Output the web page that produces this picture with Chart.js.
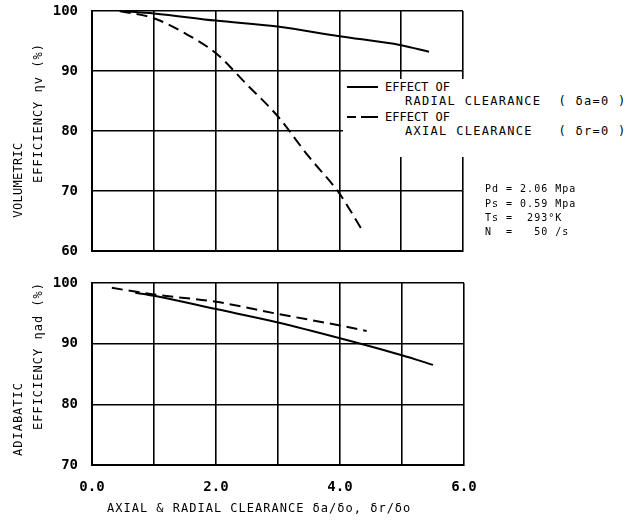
<!DOCTYPE html>
<html>
<head>
<meta charset="utf-8">
<script src="https://cdn.jsdelivr.net/npm/chart.js@4.4.1/dist/chart.umd.min.js"></script>
<style>
  body { margin: 0; background: #fff; }
  #wrap { position: relative; width: 632px; height: 524px; overflow: hidden; background: #fff;
          font-family: 'DejaVu Sans Mono', monospace; color: #000; }
  #wrap canvas { position: absolute; left: 0; }
  .txt { position: absolute; white-space: pre; line-height: 1; }
  .rot { position: absolute; white-space: pre; line-height: 1; transform: translate(-50%, -50%) rotate(-90deg); }
  .bar { position: absolute; background: #000; height: 2px; }
</style>
</head>
<body>
<div id="wrap">
  <canvas id="volChart" width="632" height="262" style="top:0"></canvas>
  <canvas id="adChart" width="632" height="254" style="top:270px"></canvas>

  <!-- axis titles -->
  <div class="rot" style="left:18px; top:180px; font-size:12px; letter-spacing:0.3px">VOLUMETRIC</div>
  <div class="rot" style="left:38px; top:113px; font-size:12px; letter-spacing:1px">EFFICIENCY ηv (%)</div>
  <div class="rot" style="left:18px; top:419px; font-size:12px; letter-spacing:1px">ADIABATIC</div>
  <div class="rot" style="left:38px; top:356px; font-size:12px; letter-spacing:1px">EFFICIENCY ηad (%)</div>
  <div class="txt" style="left:107px; top:502px; font-size:12px; letter-spacing:1px">AXIAL &amp; RADIAL CLEARANCE δa/δo, δr/δo</div>

  <!-- legend -->
  <div style="position:absolute; left:343px; top:79px; width:289px; height:78px; background:#fff"></div>
  <div class="bar" style="left:347px; top:86px; width:31px"></div>
  <div class="txt" style="left:385px; top:81px; font-size:12px">EFFECT OF</div>
  <div class="txt" style="left:405px; top:95px; font-size:12px; letter-spacing:1.3px">RADIAL CLEARANCE  ( δa=0 )</div>
  <div class="bar" style="left:347px; top:116px; width:9px"></div>
  <div class="bar" style="left:361px; top:116px; width:17px"></div>
  <div class="txt" style="left:385px; top:111px; font-size:12px">EFFECT OF</div>
  <div class="txt" style="left:405px; top:125px; font-size:12px; letter-spacing:1.3px">AXIAL CLEARANCE   ( δr=0 )</div>

  <!-- operating conditions -->
  <div class="txt" style="left:485px; top:184px; font-size:10px; letter-spacing:1px">Pd = 2.06 Mpa</div>
  <div class="txt" style="left:485px; top:199px; font-size:10px; letter-spacing:1px">Ps = 0.59 Mpa</div>
  <div class="txt" style="left:485px; top:213px; font-size:10px; letter-spacing:1px">Ts =  293°K</div>
  <div class="txt" style="left:485px; top:227px; font-size:10px; letter-spacing:1px">N  =   50 /s</div>
</div>

<script>
// clearance ratio (x) and efficiencies (%)
const volRadialX = [0.45, 1.0, 2.0, 3.0, 4.0, 5.0, 5.45];
const volRadialY = [100, 99.6, 98.4, 97.4, 95.8, 94.3, 93.2];
const volAxialX = [0.45, 1.0, 1.5, 2.0, 2.5, 3.0, 3.5, 4.0, 4.35];
const volAxialY = [100, 98.8, 96.3, 93.0, 87.8, 82.5, 75.8, 69.6, 63.8];

const adRadialX = [0.7, 1.0, 2.0, 3.0, 4.0, 5.0, 5.5];
const adRadialY = [98.4, 97.9, 95.7, 93.5, 90.9, 88.1, 86.5];
const adAxialX = [0.32, 1.0, 2.0, 3.0, 4.0, 4.43];
const adAxialY = [99.2, 98.1, 96.9, 94.9, 93.0, 92.1];

const xTickValues = [0, 1, 2, 3, 4, 5, 6];
const xTickLabels = ['0.0', '', '2.0', '', '4.0', '', '6.0'];
const volTicks = [60, 70, 80, 90, 100];
const adTicks = [70, 80, 90, 100];

const pts = (xs, ys) => xs.map((x, i) => ({ x: x, y: ys[i] }));

function curve(data, dashed) {
    return {
        data: data,
        showLine: true,
        borderColor: '#000',
        borderWidth: 2,
        borderDash: dashed ? [11, 6] : [],
        pointRadius: 0,
        cubicInterpolationMode: 'monotone',
        fill: false
    };
}

const tickFont = { family: 'DejaVu Sans Mono', size: 14, weight: 'bold' };
const gridOpts = { color: '#000', lineWidth: 1.6, drawTicks: false };
const borderOpts = { color: '#000', width: 2 };

function makeChart(id, datasets, yTicks, showX, xHeight, pad) {
    const ctx = document.getElementById(id).getContext('2d');
    return new Chart(ctx, {
        type: 'scatter',
        data: { datasets: datasets },
        options: {
            responsive: false,
            animation: false,
            devicePixelRatio: 1,
            events: [],
            layout: { padding: pad },
            plugins: { legend: { display: false }, tooltip: { enabled: false } },
            scales: {
                x: {
                    type: 'linear',
                    min: 0, max: 6,
                    grid: gridOpts,
                    border: borderOpts,
                    afterBuildTicks: s => { s.ticks = xTickValues.map(v => ({ value: v })); },
                    afterFit: s => { s.height = xHeight; s.paddingLeft = 0; s.paddingRight = 0; },
                    ticks: {
                        display: showX,
                        color: '#000',
                        font: tickFont,
                        padding: 14,
                        maxRotation: 0,
                        autoSkip: false,
                        callback: v => xTickLabels[xTickValues.indexOf(v)]
                    }
                },
                y: {
                    min: yTicks[0], max: yTicks[yTicks.length - 1],
                    grid: gridOpts,
                    border: borderOpts,
                    afterBuildTicks: s => { s.ticks = yTicks.map(v => ({ value: v })); },
                    afterFit: s => { s.width = 92; s.paddingTop = 0; s.paddingBottom = 0; },
                    ticks: { color: '#000', font: tickFont, padding: 14 }
                }
            }
        }
    });
}

makeChart('volChart',
    [curve(pts(volRadialX, volRadialY), false), curve(pts(volAxialX, volAxialY), true)],
    volTicks, false, 11, { left: 0, right: 169, top: 11, bottom: 0 });

makeChart('adChart',
    [curve(pts(adRadialX, adRadialY), false), curve(pts(adAxialX, adAxialY), true)],
    adTicks, true, 59, { left: 0, right: 168, top: 13, bottom: 0 });
</script>
</body>
</html>
